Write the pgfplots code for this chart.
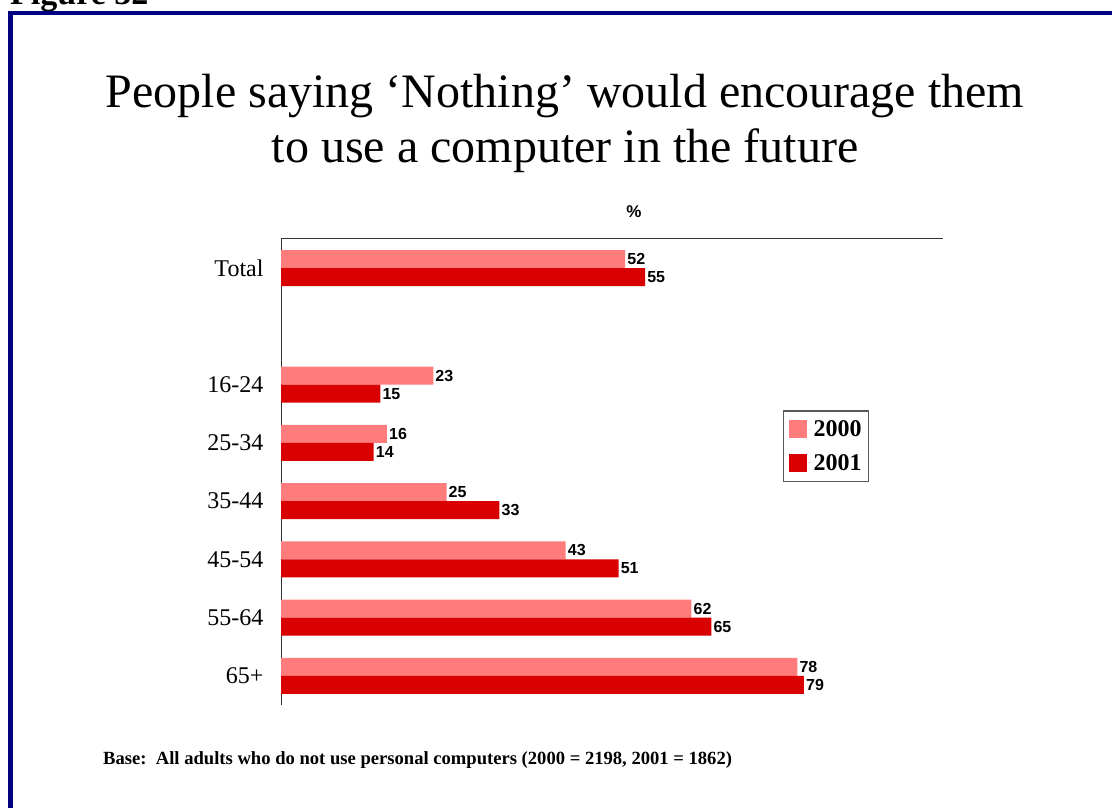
\documentclass[border=0pt]{standalone}
\usepackage{pgfplots}
\pgfplotsset{compat=1.18}
\usepackage{fontspec}
\setmainfont{Liberation Serif}
\setsansfont{Liberation Sans}
\definecolor{cA}{RGB}{255,124,124}
\definecolor{cB}{RGB}{216,0,0}
\definecolor{navyframe}{RGB}{0,0,128}
\begin{document}
\begin{tikzpicture}[x=1pt,y=1pt]
\useasboundingbox (0,0) rectangle (1112,808);
\clip (0,0) rectangle (1112,808);
\node[anchor=base west,font=\fontsize{34}{40}\selectfont\bfseries,inner sep=0] at (10,803) {Figure 32};
\draw[navyframe,line width=4.5pt] (10.5,-10) -- (10.5,795) -- (1200,795);
\node[anchor=base,font=\fontsize{48}{55}\selectfont,inner sep=0] at (565,700) {People saying ‘Nothing’ would encourage them};
\node[anchor=base,font=\fontsize{48}{55}\selectfont,inner sep=0] at (565,645) {to use a computer in the future};
\node[anchor=base,font=\sffamily\bfseries\fontsize{17}{20}\selectfont,inner sep=0] at (634,590) {\%};
\node[anchor=base west,font=\bfseries\fontsize{18.6}{20}\selectfont,inner sep=0] at (103,43) {Base:\ \ All adults who do not use personal computers (2000 = 2198, 2001 = 1862)};
\begin{axis}[
  at={(281pt,569pt)}, anchor=north west,
  scale only axis, width=662pt, height=466pt,
  xmin=0, xmax=100, ymin=-0.5, ymax=7.5, y dir=reverse,
  axis x line*=top, axis y line*=left,
  axis line style={-, line width=1pt, black!80},
  xtick=\empty,
  ytick={0,2,3,4,5,6,7},
  yticklabels={Total,16-24,25-34,35-44,45-54,55-64,65+},
  major tick length=0pt,
  yticklabel style={font=\fontsize{24}{28}\selectfont, xshift=-14pt},
  point meta=x,
  nodes near coords={\sffamily\bfseries\pgfmathprintnumber[assume math mode=true]{\pgfplotspointmeta}},
  nodes near coords style={anchor=west, font=\sffamily\bfseries\fontsize{16}{16}\selectfont, inner sep=2pt, black},
  legend style={at={(0.758,0.633)}, anchor=north west, draw=black!65, line width=1.5pt,
     font=\bfseries\fontsize{24}{24}\selectfont, row sep=12pt, inner xsep=5pt, inner ysep=8pt},
  legend cell align=left,
  legend image code/.code={\fill[#1] (0pt,-9pt) rectangle (18pt,9pt); \path (0pt,0pt) -- (23pt,0pt);},
]
\addplot[xbar, bar width=0.309, bar shift=-0.155, fill=cA, draw=none,
  nodes near coords style={yshift=9pt}]
  coordinates {(52,0) (23,2) (16,3) (25,4) (43,5) (62,6) (78,7)};
\addlegendentry{2000}
\addplot[xbar, bar width=0.309, bar shift=0.155, fill=cB, draw=none,
  nodes near coords style={yshift=-9pt}]
  coordinates {(55,0) (15,2) (14,3) (33,4) (51,5) (65,6) (79,7)};
\addlegendentry{2001}
\end{axis}
\end{tikzpicture}
\end{document}
